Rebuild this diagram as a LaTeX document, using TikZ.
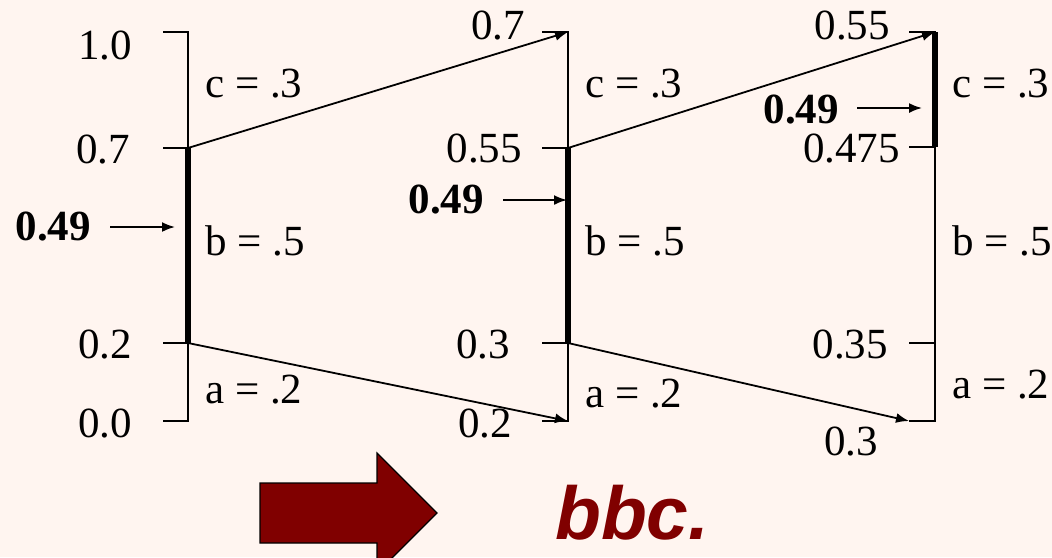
\documentclass[tikz,border=0pt]{standalone}
\usepackage{fontspec}
\setmainfont{Liberation Serif}
\newfontfamily\arialf{Liberation Sans}
\usetikzlibrary{arrows.meta}
\definecolor{bgc}{RGB}{255,245,240}
\definecolor{dred}{RGB}{128,0,0}
\begin{document}
\begin{tikzpicture}[x=1pt,y=-1pt,
  lbl/.style={font=\fontsize{43}{50}\selectfont, inner sep=0pt},
  num/.style={lbl, anchor=base east},
  seglbl/.style={lbl, anchor=base west},
  sel/.style={font=\fontsize{43}{50}\selectfont\bfseries, inner sep=0pt, anchor=base east},
  ln/.style={line width=1.8pt},
  heavy/.style={line width=5.5pt, line cap=butt},
  arr/.style={ln, -{Latex[length=13pt,width=10pt]}}
]
\fill[bgc] (0,0) rectangle (1052,557);
\useasboundingbox (0,0) rectangle (1052,557);

% ---------- coordinates
\coordinate (L1) at (188,32);   \coordinate (L1t) at (163,32);
\coordinate (L07) at (188,148); \coordinate (L07t) at (163,148);
\coordinate (L02) at (188,343); \coordinate (L02t) at (163,343);
\coordinate (L0) at (188,421);  \coordinate (L0t) at (163,421);
\coordinate (M1) at (568,32);   \coordinate (M1t) at (542,32);
\coordinate (M055) at (568,148);\coordinate (M055t) at (542,148);
\coordinate (M03) at (568,343); \coordinate (M03t) at (542,343);
\coordinate (M0) at (568,421);  \coordinate (M0t) at (542,421);
\coordinate (R1) at (935,32);   \coordinate (R1t) at (909,32);
\coordinate (R0475) at (935,147);\coordinate (R0475t) at (909,147);
\coordinate (R035) at (935,343); \coordinate (R035t) at (909,343);
\coordinate (R0) at (935,421);  \coordinate (R0t) at (909,421);

% ---------- left column
\draw[ln] (L1t) -- (L1) -- (L0) -- (L0t);
\draw[ln] (L07t) -- (L07);
\draw[ln] (L02t) -- (L02);
\draw[heavy] (L07) -- (L02);
\node[num] (l10) at (132,59) {1.0};
\node[num] (l07) at (130,163) {0.7};
\node[num] (l02) at (132,358) {0.2};
\node[num] (l00) at (132,437) {0.0};
\node[seglbl] (lc) at (205,97) {c = .3};
\node[seglbl] (lb) at (205,255) {b = .5};
\node[seglbl] (la) at (205,403) {a = .2};
\node[sel] (lsel) at (91,240) {0.49};
\coordinate (la0) at (110,227); \coordinate (la1) at (175,227);
\draw[arr] (la0) -- (la1);

% ---------- middle column
\draw[ln] (M1t) -- (M1) -- (M0) -- (M0t);
\draw[ln] (M055t) -- (M055);
\draw[ln] (M03t) -- (M03);
\draw[heavy] (M055) -- (M03);
\node[num] (m07) at (525,39) {0.7};
\node[num] (m055) at (522,162) {0.55};
\node[num] (m03) at (510,358) {0.3};
\node[num] (m02) at (512,437) {0.2};
\node[seglbl] (mc) at (585,97) {c = .3};
\node[seglbl] (mb) at (585,255) {b = .5};
\node[seglbl] (ma) at (585,407) {a = .2};
\node[sel] (msel) at (484,213) {0.49};
\coordinate (ma0) at (503,200); \coordinate (ma1) at (567,200);
\draw[arr] (ma0) -- (ma1);

% ---------- right column
\draw[ln] (R1t) -- (R1) -- (R0) -- (R0t);
\draw[ln] (R0475t) -- (R0475);
\draw[ln] (R035t) -- (R035);
\draw[heavy] (R1) -- (R0475);
\node[num] (r055) at (890,39) {0.55};
\node[num] (r0475) at (900,162) {0.475};
\node[num] (r035) at (888,358) {0.35};
\node[num] (r03) at (878,455) {0.3};
\node[seglbl] (rc) at (952,97) {c = .3};
\node[seglbl] (rb) at (952,255) {b = .5};
\node[seglbl] (ra) at (952,398) {a = .2};
\node[sel] (rsel) at (839,123) {0.49};
\coordinate (ra0) at (857,108); \coordinate (ra1) at (922,108);
\draw[arr] (ra0) -- (ra1);

% ---------- connecting arrows
\draw[arr] (L07) -- (M1);
\draw[arr] (L02) -- (M0);
\draw[arr] (M055) -- (R1);
\draw[arr] (M03) -- (R0t);

% ---------- result
\begin{scope}
\clip (0,0) rectangle (1052,557);
\draw[fill=dred, draw=black, line width=1.2pt, line join=miter]
  (260,483) -- (377,483) -- (377,453) -- (437,513) -- (377,573) -- (377,543) -- (260,543) -- cycle;
\end{scope}
\node[font=\arialf\bfseries\itshape\fontsize{75}{82}\selectfont, text=dred, inner sep=0pt, anchor=base west] (res) at (555,539) {bbc.};
\end{tikzpicture}
\end{document}
